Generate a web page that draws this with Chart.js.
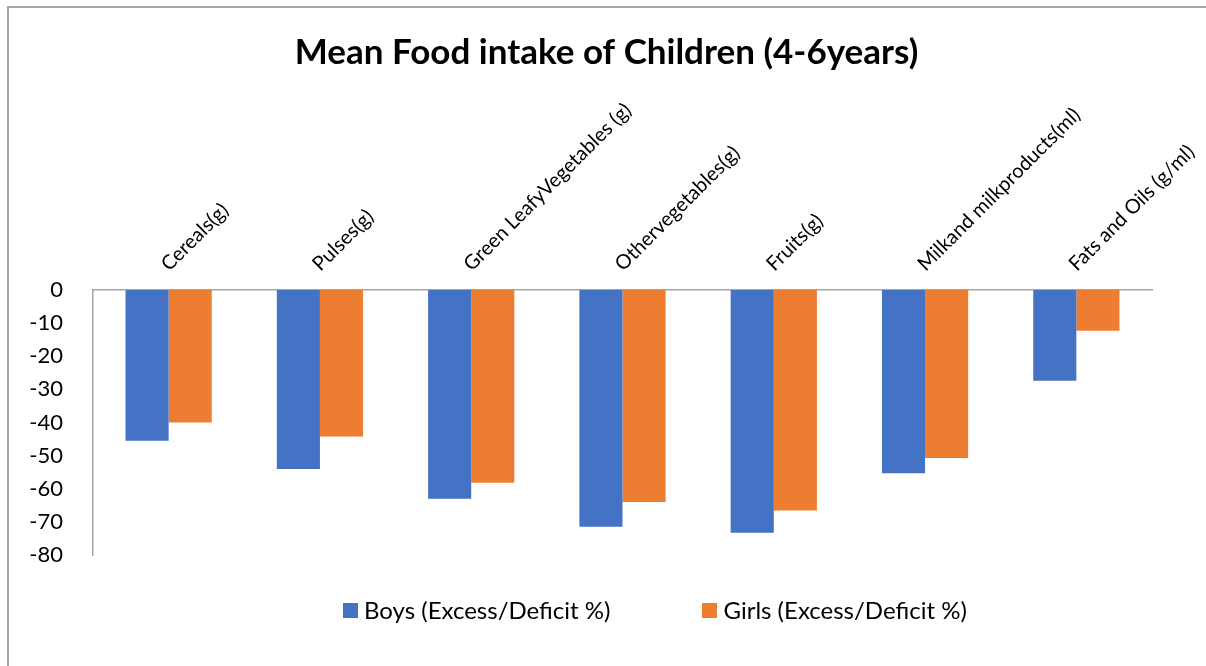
<!DOCTYPE html>
<html lang="en">
<head>
    <meta charset="UTF-8">
    <title>Mean Food intake of Children (4-6years)</title>
    <script src="https://cdn.jsdelivr.net/npm/chart.js"></script>
    <style>
        body {
            margin: 0;
            background: #fff;
            font-family: Lato, "Open Sans", sans-serif;
        }

        #frame {
            position: relative;
            width: 1206px;
            height: 666px;
            overflow: hidden;
        }

        /* thin grey frame on the left and top edges */
        #frame::before {
            content: "";
            position: absolute;
            left: 7px;
            top: 6px;
            right: -4px;
            bottom: -4px;
            border-left: 2px solid #a6a6a6;
            border-top: 2px solid #a6a6a6;
            pointer-events: none;
        }

        #foodChart {
            display: block;
        }

        /* legend below the plot */
        #legend {
            position: absolute;
            left: 343px;
            top: 595px;
            display: flex;
            gap: 92px;
            font-size: 24px;
            line-height: 30px;
            color: #000;
        }

        .legend-item {
            display: flex;
            align-items: center;
        }

        .legend-box {
            width: 15px;
            height: 15px;
            margin-right: 6px;
        }
    </style>
</head>
<body>
    <div id="frame">
        <canvas id="foodChart" width="1206" height="666"></canvas>
        <div id="legend"></div>
    </div>

    <script>
        // Food groups (x axis, shown along the top)
        const foodGroups = [
            'Cereals(g)',
            'Pulses(g)',
            'Green LeafyVegetables (g)',
            'Othervegetables(g)',
            'Fruits(g)',
            'Milkand milkproducts(ml)',
            'Fats and Oils (g/ml)'
        ];

        // Excess / deficit in percent
        const boysDeficit = [-45.5, -54, -63, -71.5, -73.3, -55.3, -27.4];
        const girlsDeficit = [-40, -44.2, -58.2, -64, -66.6, -50.7, -12.3];

        const yTicks = { min: -80, max: 0, step: 10 };

        const fontFamily = 'Lato, "Open Sans", sans-serif';
        const axisGrey = '#a6a6a6';

        const ctx = document.getElementById('foodChart').getContext('2d');

        const chart = new Chart(ctx, {
            type: 'bar',
            data: {
                labels: foodGroups,
                datasets: [
                    {
                        label: 'Boys (Excess/Deficit %)',
                        data: boysDeficit,
                        backgroundColor: '#4472c4',
                        categoryPercentage: 0.57,
                        barPercentage: 1.0
                    },
                    {
                        label: 'Girls (Excess/Deficit %)',
                        data: girlsDeficit,
                        backgroundColor: '#ed7d31',
                        categoryPercentage: 0.57,
                        barPercentage: 1.0
                    }
                ]
            },
            options: {
                responsive: false,
                maintainAspectRatio: false,
                animation: false,
                devicePixelRatio: 1,
                layout: {
                    padding: { left: 7, right: 0, top: 0, bottom: 111 }
                },
                plugins: {
                    title: {
                        display: true,
                        text: 'Mean Food intake of Children (4-6years)',
                        color: '#000',
                        font: { family: fontFamily, size: 35, weight: 'bold' },
                        padding: { top: 32, bottom: 0 }
                    },
                    legend: { display: false },
                    tooltip: { enabled: false }
                },
                scales: {
                    x: {
                        position: 'top',
                        grid: { display: false },
                        border: { display: true, color: axisGrey, width: 1.5 },
                        ticks: {
                            autoSkip: false,
                            minRotation: 45,
                            maxRotation: 45,
                            color: '#000',
                            font: { family: fontFamily, size: 20 },
                            padding: 6,
                            labelOffset: 13
                        },
                        afterFit: (scale) => { scale.height = 216; }
                    },
                    y: {
                        min: yTicks.min,
                        max: yTicks.max,
                        grid: { display: false },
                        border: { display: true, color: axisGrey, width: 1.5 },
                        ticks: {
                            stepSize: yTicks.step,
                            color: '#000',
                            font: { family: fontFamily, size: 22 },
                            padding: 22
                        },
                        afterFit: (scale) => { scale.width = 86; }
                    },
                    // empty strip on the right so the plot stops short of the edge
                    spacer: {
                        position: 'right',
                        grid: { display: false },
                        border: { display: false },
                        ticks: { display: false },
                        afterFit: (scale) => { scale.width = 54; }
                    }
                }
            }
        });

        // build the legend from the datasets
        const legendEl = document.getElementById('legend');
        chart.data.datasets.forEach((ds) => {
            const item = document.createElement('div');
            item.className = 'legend-item';
            const box = document.createElement('span');
            box.className = 'legend-box';
            box.style.background = ds.backgroundColor;
            const text = document.createElement('span');
            text.textContent = ds.label;
            item.appendChild(box);
            item.appendChild(text);
            legendEl.appendChild(item);
        });
    </script>
</body>
</html>
